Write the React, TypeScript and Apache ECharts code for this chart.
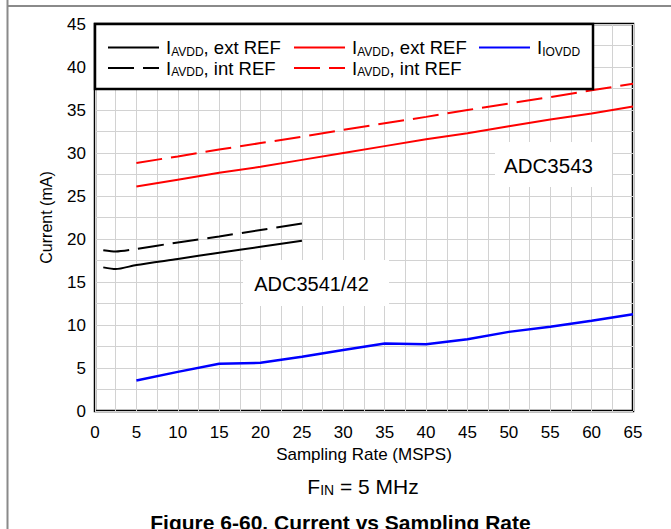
import React, { useEffect, useRef } from 'react';
import * as echarts from 'echarts';

const FONT = '"Liberation Sans", Arial, Helvetica, sans-serif';

// Sampling rates (MSPS)
const xAdc3541 = [1, 2.5, 5, 10, 15, 20, 25];
const xAdc3543 = [5, 10, 15, 20, 25, 30, 35, 40, 45, 50, 55, 60, 65];

// Currents (mA)
const adc3541ExtRef = [16.7, 16.5, 16.98, 17.68, 18.4, 19.1, 19.8];
const adc3541IntRef = [18.7, 18.55, 18.85, 19.6, 20.3, 21.05, 21.8];
const adc3543ExtRef = [26.1, 26.9, 27.7, 28.4, 29.2, 30.0, 30.8, 31.6, 32.3, 33.1, 33.9, 34.6, 35.4];
const adc3543IntRef = [28.85, 29.6, 30.4, 31.15, 31.9, 32.7, 33.45, 34.2, 35.0, 35.75, 36.5, 37.3, 38.05];
const iovdd = [3.55, 4.55, 5.5, 5.6, 6.3, 7.1, 7.85, 7.75, 8.35, 9.2, 9.8, 10.5, 11.25];

const seriesNames = ['ADC3541/42 ext', 'ADC3541/42 int', 'ADC3543 ext', 'ADC3543 int', 'IOVDD'];
const legendLabels: Record<string, [string, string]> = {
  'ADC3541/42 ext': ['AVDD', ', ext REF'],
  'ADC3541/42 int': ['AVDD', ', int REF'],
  'ADC3543 ext': ['AVDD', ', ext REF'],
  'ADC3543 int': ['AVDD', ', int REF'],
  'IOVDD': ['IOVDD', ''],
};

const annotations = ['ADC3543', 'ADC3541/42'];

function pairs(xs: number[], ys: number[]) {
  return xs.map((x, i) => [x, ys[i]]);
}

export default function App() {
  const ref = useRef<HTMLDivElement>(null);
  useEffect(() => {
    const chart = echarts.init(ref.current!, null, { renderer: 'svg' });
    const rich = {
      m: { fontSize: 18.5, fontFamily: FONT, color: '#000', lineHeight: 20 },
      s: { fontSize: 12, fontFamily: FONT, color: '#000', lineHeight: 8, verticalAlign: 'bottom' },
    };
    const legendBase = {
      orient: 'vertical',
      top: 38,
      itemWidth: 51,
      itemHeight: 14,
      itemGap: 1,
      padding: 0,
      z: 20,
      selectedMode: false,
      itemStyle: { opacity: 0 },
      formatter: (name: string) => {
        const [sub, rest] = legendLabels[name];
        return rest ? `{m|I}{s|${sub}}{m|${rest}}` : `{m|I}{s|${sub}}`;
      },
      textStyle: { rich, padding: [0, 0, 0, 2] },
    };
    const gridLine = { lineStyle: { color: '#d2d2d2', width: 1 } };
    const dash = [26, 9];
    chart.setOption({
      animation: false,
      backgroundColor: '#fff',
      textStyle: { fontFamily: FONT },
      grid: {
        left: 95, right: 38, top: 24, bottom: 118,
        show: true, borderColor: '#000', borderWidth: 2.5, backgroundColor: 'transparent',
        containLabel: false,
      },
      legend: [
        { ...legendBase, left: 107, data: [seriesNames[0], seriesNames[1]] },
        { ...legendBase, left: 293, data: [seriesNames[2], seriesNames[3]] },
        { ...legendBase, left: 478, data: [seriesNames[4]] },
      ],
      xAxis: {
        type: 'value', min: 0, max: 65, interval: 5,
        axisLine: { show: false }, axisTick: { show: false },
        axisLabel: { fontSize: 17, color: '#000', margin: 13, fontFamily: FONT },
        splitLine: gridLine,
        minorTick: { show: false, splitNumber: 2 },
        minorSplitLine: { show: true, ...gridLine },
        name: 'Sampling Rate (MSPS)', nameLocation: 'middle', nameGap: 31,
        nameTextStyle: { fontSize: 17, color: '#000', fontFamily: FONT },
      },
      yAxis: {
        type: 'value', min: 0, max: 45, interval: 5,
        axisLine: { show: false }, axisTick: { show: false },
        axisLabel: { fontSize: 17, color: '#000', margin: 9, fontFamily: FONT },
        splitLine: gridLine,
        minorTick: { show: false, splitNumber: 2 },
        minorSplitLine: { show: true, ...gridLine },
        name: 'Current (mA)', nameLocation: 'middle', nameGap: 41,
        nameTextStyle: { fontSize: 16, color: '#000', fontFamily: FONT },
      },
      series: [
        { name: seriesNames[0], type: 'line', data: pairs(xAdc3541, adc3541ExtRef), symbol: 'none', smooth: 0.25,
          lineStyle: { color: '#000', width: 2 }, itemStyle: { color: '#000' } },
        { name: seriesNames[1], type: 'line', data: pairs(xAdc3541, adc3541IntRef), symbol: 'none', smooth: 0.25,
          lineStyle: { color: '#000', width: 2, type: dash }, itemStyle: { color: '#000' } },
        { name: seriesNames[2], type: 'line', data: pairs(xAdc3543, adc3543ExtRef), symbol: 'none',
          lineStyle: { color: '#ff0000', width: 2 }, itemStyle: { color: '#ff0000' } },
        { name: seriesNames[3], type: 'line', data: pairs(xAdc3543, adc3543IntRef), symbol: 'none',
          lineStyle: { color: '#ff0000', width: 2, type: dash }, itemStyle: { color: '#ff0000' } },
        { name: seriesNames[4], type: 'line', data: pairs(xAdc3543, iovdd), symbol: 'none',
          lineStyle: { color: '#0000ff', width: 2.5 }, itemStyle: { color: '#0000ff' } },
      ],
      graphic: [
        { type: 'line', shape: { x1: 7.5, y1: 0, x2: 7.5, y2: 529 }, style: { stroke: '#8a8a8a', lineWidth: 2 }, z: 30 },
        { type: 'line', shape: { x1: 7.5, y1: 6, x2: 671, y2: 6 }, style: { stroke: '#8a8a8a', lineWidth: 2 }, z: 30 },
        { type: 'rect', shape: { x: 95, y: 24, width: 498, height: 65 }, style: { fill: '#fff', stroke: '#000', lineWidth: 2.5 }, z: 10 },
        { type: 'rect', shape: { x: 495, y: 142, width: 117, height: 45 }, style: { fill: '#fff' }, z: 1 },
        { type: 'text', x: 548.5, y: 165, z: 1, z2: 5,
          style: { text: annotations[0], fontSize: 20.5, fontFamily: FONT, fill: '#000', align: 'center', verticalAlign: 'middle' } },
        { type: 'rect', shape: { x: 243, y: 260, width: 146, height: 46 }, style: { fill: '#fff' }, z: 1 },
        { type: 'text', x: 311.5, y: 284, z: 1, z2: 5,
          style: { text: annotations[1], fontSize: 20, fontFamily: FONT, fill: '#000', align: 'center', verticalAlign: 'middle' } },
        { type: 'text', x: 363, y: 486, z: 30,
          style: {
            text: '{m|F}{s|IN}{m| = 5 MHz}', align: 'center', verticalAlign: 'middle',
            rich: {
              m: { fontSize: 21, fontFamily: FONT, fill: '#000', lineHeight: 22 },
              s: { fontSize: 14, fontFamily: FONT, fill: '#000', lineHeight: 9, verticalAlign: 'bottom' },
            },
          } },
        { type: 'text', x: 340.5, y: 522, z: 30,
          style: { text: 'Figure 6-60. Current vs Sampling Rate', fontSize: 21, fontWeight: 'bold', fontFamily: FONT,
            fill: '#000', align: 'center', verticalAlign: 'middle' } },
      ],
    });
    return () => chart.dispose();
  }, []);
  return <div ref={ref} style={{ position: 'fixed', left: 0, top: 0, width: 671, height: 529, background: '#fff' }} />;
}
